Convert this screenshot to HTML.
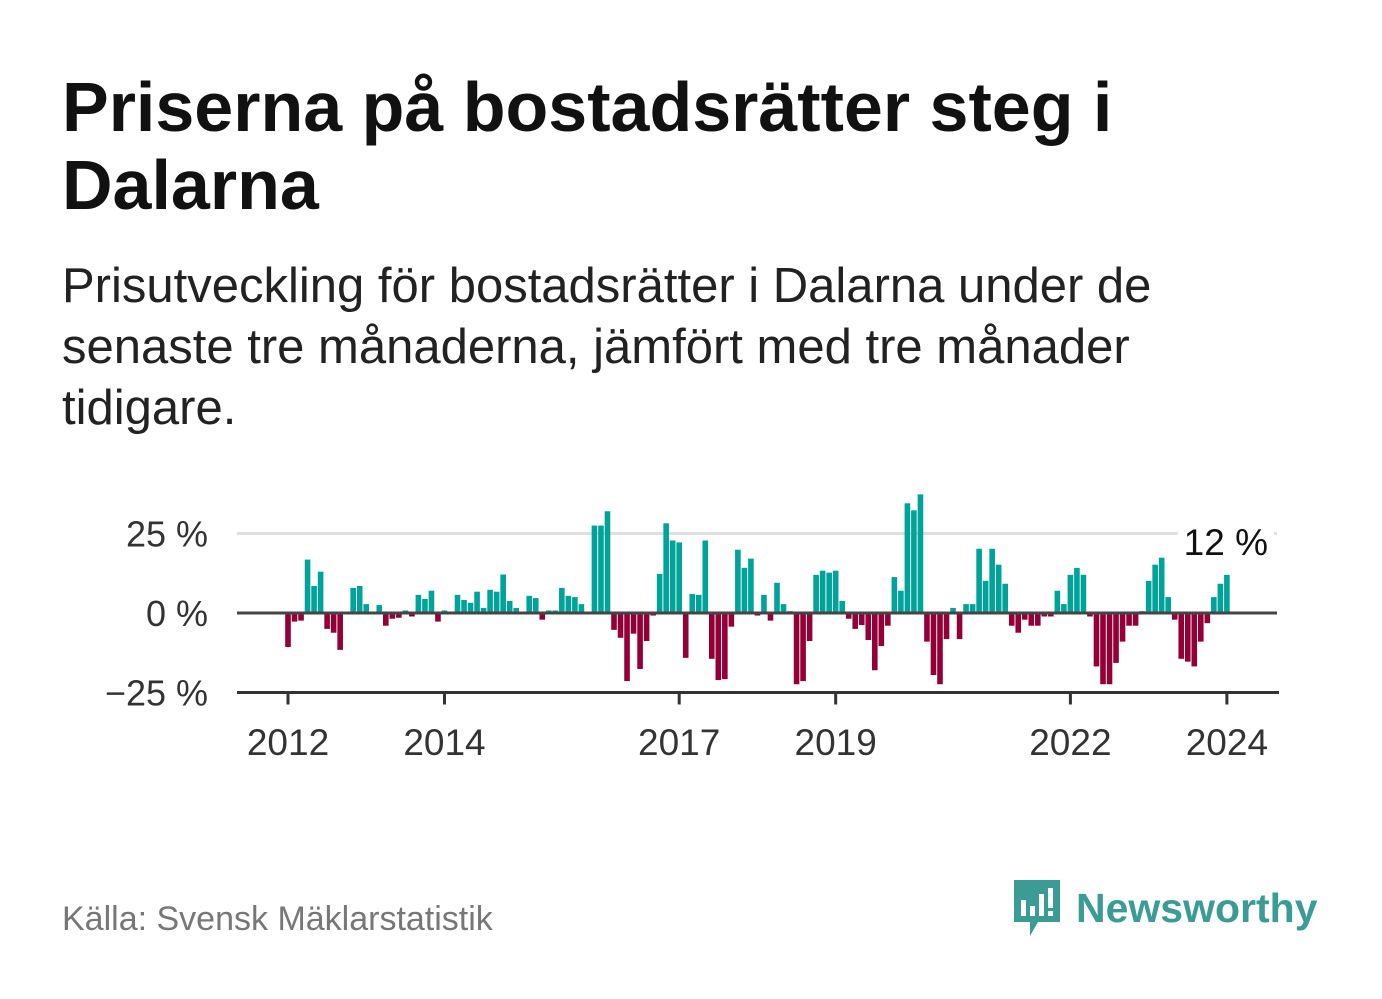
<!DOCTYPE html>
<html><head><meta charset="utf-8"><style>
body{margin:0;width:1382px;height:999px;background:#fff;font-family:"Liberation Sans",sans-serif;overflow:hidden;position:relative}
#title{position:absolute;left:62px;top:68px;font-size:70px;font-weight:bold;line-height:78px;color:#111;margin:0;width:1300px}
#sub{position:absolute;left:62px;top:256px;font-size:49px;line-height:61px;color:#222;margin:0;width:1300px;white-space:nowrap}
#src{position:absolute;left:62px;top:900px;font-size:34px;color:#777}
#logo{position:absolute;left:1012px;top:878px;display:flex;align-items:center}
#logo span{font-size:41px;font-weight:bold;color:#3b9c96;margin-left:14px}
</style></head><body>
<h1 id="title">Priserna på bostadsrätter steg i<br>Dalarna</h1>
<p id="sub">Prisutveckling för bostadsrätter i Dalarna under de<br>senaste tre månaderna, jämfört med tre månader<br>tidigare.</p>
<svg id="chart" width="1382" height="999" style="position:absolute;left:0;top:0"></svg>
<div id="src">Källa: Svensk Mäklarstatistik</div>
<div id="logo">
<svg width="50" height="60" viewBox="0 0 50 60"><path d="M2 2h46v42H26l-8 14v-14H2z" fill="#3b9c96"/><rect x="9" y="22" width="5" height="16" fill="#fff"/><rect x="18" y="28" width="5" height="10" fill="#fff"/><rect x="27" y="16" width="5" height="22" fill="#fff"/><rect x="36" y="10" width="5" height="20" fill="#fff"/><rect x="36" y="33" width="5" height="5" fill="#fff"/></svg>
<span>Newsworthy</span></div>
<script>
const values=[-10.7,-2.7,-2.4,16.8,8.5,13,-5,-6.2,-11.6,0,7.9,8.5,2.8,0,2.5,-4,-1.8,-1.5,0.8,-1.1,5.7,4.4,7,-2.7,0.8,0,5.7,4.1,3.2,6.7,1.6,7.3,6.7,12.1,3.8,1.6,0,5.4,4.7,-2.1,0.8,0.8,7.9,5.4,5,2.8,0,27.5,27.5,32,-5.3,-7.8,-21.4,-6.5,-17.6,-8.8,-0.8,12.3,28.2,22.8,22.2,-14.1,6,5.7,22.8,-14.4,-21.1,-20.8,-4.3,19.9,14.2,17.1,-0.8,5.7,-2.4,9.5,2.8,0.6,-22.4,-21.4,-8.8,12,13.3,12.7,13.3,3.8,-1.8,-5,-3.8,-8.5,-18,-10.4,-4,11.3,7,34.5,32.3,37.3,-9,-19.5,-22.4,-8.2,1.6,-8.2,2.8,2.8,20.2,10.1,20.2,15.2,9.2,-4,-6.2,-2.1,-4,-4,-1.1,-1.1,7,2.8,12,14.2,12,-1.1,-16.8,-22.4,-22.4,-15.7,-9,-4,-4,0.6,10.1,15.2,17.4,5,-2.1,-14.4,-15.3,-16.8,-9,-3.2,5,9.2,12];
const yTicks=[25,0,-25];
const yTickLabels=["25 %","0 %","\u221225 %"];
const xTickYears=[2012,2014,2017,2019,2022,2024];
const lastLabel="12 %";
const NS="http://www.w3.org/2000/svg",svg=document.getElementById('chart');
const x0=288,monthW=6.52,startYear=2012;
const X=i=>x0+i*monthW, XY=y=>X((y-startYear)*12);
const Y=v=>613-v*3.18;
function mk(t,a){const e=document.createElementNS(NS,t);for(const k in a)e.setAttribute(k,a[k]);svg.appendChild(e);return e;}
yTicks.forEach((t,i)=>{
 if(t>0){const g=mk('line',{x1:237,x2:1277,y1:Y(t),y2:Y(t),stroke:'#e0e0e0','stroke-width':3});
 }
 const l=mk('text',{x:208,y:Y(t)+13,'text-anchor':'end','font-size':36,fill:'#333','font-family':'Liberation Sans, sans-serif'});
 l.textContent=yTickLabels[i];
 
});
values.forEach((v,i)=>{
 const r=mk('rect',{x:X(i)-2.8,width:5.6,y:Math.min(Y(v),Y(0)),height:Math.abs(Y(v)-Y(0)),fill:v>=0?'#00a39a':'#930038'});
 
});
const z=mk('line',{x1:237,x2:1277,y1:Y(0),y2:Y(0),stroke:'#444','stroke-width':3});

const ax=mk('line',{x1:237,x2:1279,y1:Y(-25),y2:Y(-25),stroke:'#333','stroke-width':3});

xTickYears.forEach(y=>{
 const t=mk('line',{x1:XY(y),x2:XY(y),y1:Y(-25),y2:Y(-25)+12,stroke:'#333','stroke-width':3});
 
 const l=mk('text',{x:XY(y),y:755,'text-anchor':'middle','font-size':37,fill:'#333','font-family':'Liberation Sans, sans-serif'});
 l.textContent=y;
 
});
const bg=mk('rect',{x:1178,y:520,width:96,height:42,fill:'#fff'});

const ll=mk('text',{x:1268,y:555,'text-anchor':'end','font-size':37,fill:'#111','font-family':'Liberation Sans, sans-serif'});
ll.textContent=lastLabel;

</script>
</body></html>
